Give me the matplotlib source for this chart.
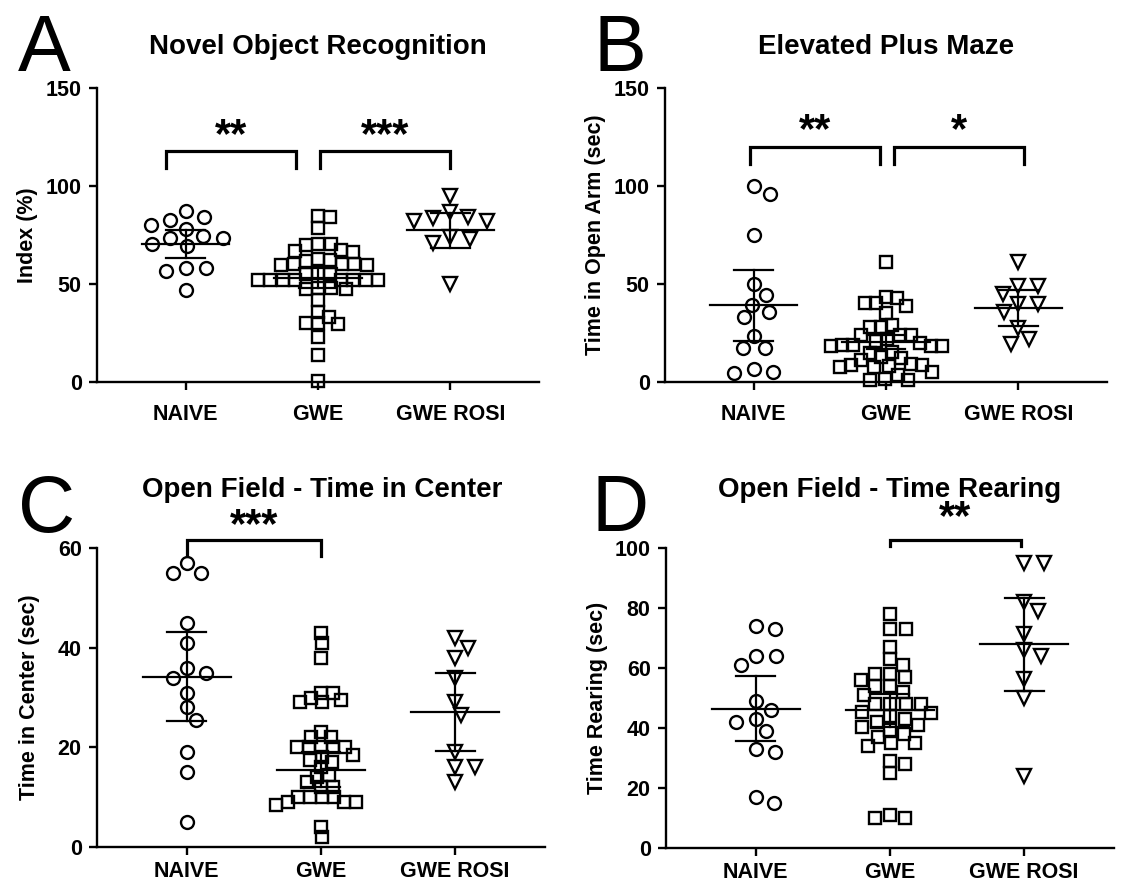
import numpy as np
import matplotlib
matplotlib.use("Agg")
import matplotlib.pyplot as plt

plt.rcParams['font.family'] = ['Liberation Sans', 'DejaVu Sans']

# ---------------- data ----------------
groups = ["NAIVE", "GWE", "GWE ROSI"]

nor_naive = [87, 84, 82.5, 80, 78, 74.5, 73.5, 73.5, 70.5, 69.5, 58, 56.5, 58, 47]
nor_gwe = [84.5, 84, 78.5, 70.5, 70.5, 70, 67.5, 67, 66.5, 62.5, 62, 61.5, 60, 60,
           59.5, 59.5, 60, 55.5, 55, 55, 52, 52, 52, 52, 52, 52, 52, 52, 48, 48,
           47.5, 47.5, 42, 35.5, 33, 30, 29.5, 30, 23, 14, 0.5]
nor_rosi = [95, 86.5, 83.5, 82, 84, 82, 74, 71, 73, 50]
nor_mean = [70.6, 53, 77.4]
nor_ci = [7.2, 5, 8.9]

epm_naive = [100, 96, 75, 50, 44.5, 39.5, 35.5, 33, 23.5, 17.5, 17.5, 4.5, 6.5, 5]
epm_gwe = [61, 43.5, 43, 40.5, 39, 40.5, 35, 29, 28, 28, 24, 24, 24, 22, 21, 20,
           19, 19, 18.5, 18.5, 18.5, 15.5, 15, 13, 12, 11, 9, 8.5, 8.5, 8, 7.5,
           7.5, 5, 3.5, 1.5, 1, 1]
epm_rosi = [61, 49, 49, 45, 40, 40, 35.5, 27.5, 19.5, 22]
epm_mean = [39.1, 20.5, 37.9]
epm_ci = [18, 3.5, 9.2]

ofc_naive = [57, 55, 55, 45, 41, 36, 34, 35, 31, 28, 25.5, 19, 15, 5]
ofc_gwe = [43, 41, 38, 31, 29.5, 29, 30, 29, 31, 22, 23, 22, 20, 20, 20, 20, 20,
           17.5, 18.5, 18, 17, 16, 14.5, 14, 13, 12, 12, 10, 9, 10, 8.5, 9, 9,
           10, 10, 2, 4]
ofc_rosi = [40, 42, 38, 34, 29, 26.5, 19, 16, 16, 13]
ofc_mean = [34.2, 15.5, 27.1]
ofc_ci = [9, 3.5, 7.8]

ofr_naive = [73, 74, 64, 64, 61, 49, 46, 43, 42, 39, 32, 33, 15, 17]
ofr_gwe = [78, 73, 73, 67, 61, 63, 56, 57, 58, 58, 52, 51, 54, 54, 48, 48, 48, 48,
           45, 45.5, 44, 43, 41, 42, 40.5, 39.5, 35, 37, 38, 35, 34, 29, 28, 25,
           10, 11, 10]
ofr_rosi = [95, 95, 82, 79, 71.5, 66, 64, 56.5, 50, 24]
ofr_mean = [46.4, 46, 68]
ofr_ci = [10.8, 5.5, 15.5]

W, H = 1121, 888
fig = plt.figure(figsize=(W / 100, H / 100), dpi=100)


def px_axes(left, right, top, bottom):
    return fig.add_axes([left / W, 1 - bottom / H, (right - left) / W, (bottom - top) / H])


def swarm(ax, values, sx, sy):
    """elliptical beeswarm in pixel space; returns x offsets in data units"""
    vals = np.asarray(values, float)
    t = ax.transData
    ypx = t.transform(np.column_stack([np.zeros(len(vals)), vals]))[:, 1]
    xscale = t.transform((1, 0))[0] - t.transform((0, 0))[0]
    order = np.argsort(-vals, kind="stable")
    placed = []
    xs = np.zeros(len(vals))
    for i in order:
        cands = [0.0]
        for (xj, yj) in placed:
            dy = ypx[i] - yj
            if abs(dy) < sy:
                dx = sx * np.sqrt(1 - (dy / sy) ** 2)
                cands += [xj + dx, xj - dx]
        cands = sorted(cands, key=lambda c: (abs(c), -c))
        for c in cands:
            ok = True
            for (xj, yj) in placed:
                if ((c - xj) / sx) ** 2 + ((ypx[i] - yj) / sy) ** 2 < 0.999:
                    ok = False
                    break
            if ok:
                xs[i] = c
                placed.append((c, ypx[i]))
                break
    return xs / xscale


def panel(ax, data, means, cis, ymax, ystep, ylabel, ylabel_x, xpad, sq):
    ax.set_xlim(-0.67, 2.67)
    ax.set_ylim(0, ymax)
    ax.spines[['top', 'right']].set_visible(False)
    for s in ['left', 'bottom']:
        ax.spines[s].set_linewidth(1.7)
    ax.set_yticks(np.arange(0, ymax + 1, ystep))
    ax.set_xticks(range(3))
    ax.set_xticklabels(groups)
    ax.tick_params(length=6, width=1.7, labelsize=15.5, pad=5)
    ax.tick_params(axis='x', pad=xpad)
    for lab in ax.get_xticklabels() + ax.get_yticklabels():
        lab.set_fontweight('bold')
    ax.set_ylabel(ylabel, fontsize=15.5, fontweight='bold')
    ax.yaxis.set_label_coords(ylabel_x, 0.5)
    styles = [('o', 9.3, 20, 14), ('s', 8.3, sq[0], sq[1]), ('v', 9.8, 19.5, 13)]
    for k, vals in enumerate(data):
        m, ms, sx, sy = styles[k]
        off = swarm(ax, vals, sx, sy)
        ax.plot(k + off, vals, ls='none', marker=m, ms=ms, mfc='none', mec='black',
                mew=1.7, clip_on=False, zorder=3)
        mu, ci = means[k], cis[k]
        ax.plot([k - 0.33, k + 0.33], [mu, mu], color='black', lw=1.6, zorder=4)
        ax.plot([k, k], [mu - ci, mu + ci], color='black', lw=1.6, zorder=4)
        for yy in (mu - ci, mu + ci):
            ax.plot([k - 0.145, k + 0.145], [yy, yy], color='black', lw=1.6, zorder=4)


def bracket(ax, x0, x1, ytop, ybot, stars, ystar):
    ax.plot([x0, x0, x1, x1], [ybot, ytop, ytop, ybot], color='black', lw=2.3,
            clip_on=False, solid_joinstyle='miter')
    ax.text((x0 + x1) / 2, ystar, stars, ha='center', va='center', fontsize=30,
            fontweight='bold', clip_on=False)


axA = px_axes(97, 539, 88, 382)
panel(axA, [nor_naive, nor_gwe, nor_rosi], nor_mean, nor_ci, 150, 50, "Index (%)",
      -0.133, 10, (12.5, 10))
bracket(axA, -0.146, 0.83, 117.7, 109.2, "**", 125.5)
bracket(axA, 1.015, 2.0, 117.7, 109.2, "***", 125.5)

axB = px_axes(665, 1107, 88, 382)
panel(axB, [epm_naive, epm_gwe, epm_rosi], epm_mean, epm_ci, 150, 50,
      "Time in Open Arm (sec)", -0.133, 10, (11, 14))
bracket(axB, -0.025, 0.955, 119.9, 111.4, "**", 128)
bracket(axB, 1.06, 2.045, 119.9, 111.4, "*", 128)

axC = px_axes(97, 545, 548, 847)
panel(axC, [ofc_naive, ofc_gwe, ofc_rosi], ofc_mean, ofc_ci, 60, 20,
      "Time in Center (sec)", -0.127, 4, (12, 10))
bracket(axC, 0, 1, 61.7, 58.3, "***", 64.3)

axD = px_axes(666, 1114, 548, 848)
panel(axD, [ofr_naive, ofr_gwe, ofr_rosi], ofr_mean, ofr_ci, 100, 20,
      "Time Rearing (sec)", -0.129, 4, (15.5, 12))
bracket(axD, 1, 1.975, 102.8, 100.6, "**", 110)

# titles and panel letters
for (x, y, s) in [(318, 54, "Novel Object Recognition"), (886, 54, "Elevated Plus Maze"),
                  (322, 497, "Open Field - Time in Center"), (890, 497, "Open Field - Time Rearing")]:
    fig.text(x / W, 1 - y / H, s, ha='center', va='baseline', fontsize=20, fontweight='bold')
for (x, y, s) in [(18, 71, "A"), (593, 71, "B"), (18, 532, "C"), (591, 531, "D")]:
    fig.text(x / W, 1 - y / H, s, ha='left', va='baseline', fontsize=57)

fig.savefig("out.png", dpi=100)
